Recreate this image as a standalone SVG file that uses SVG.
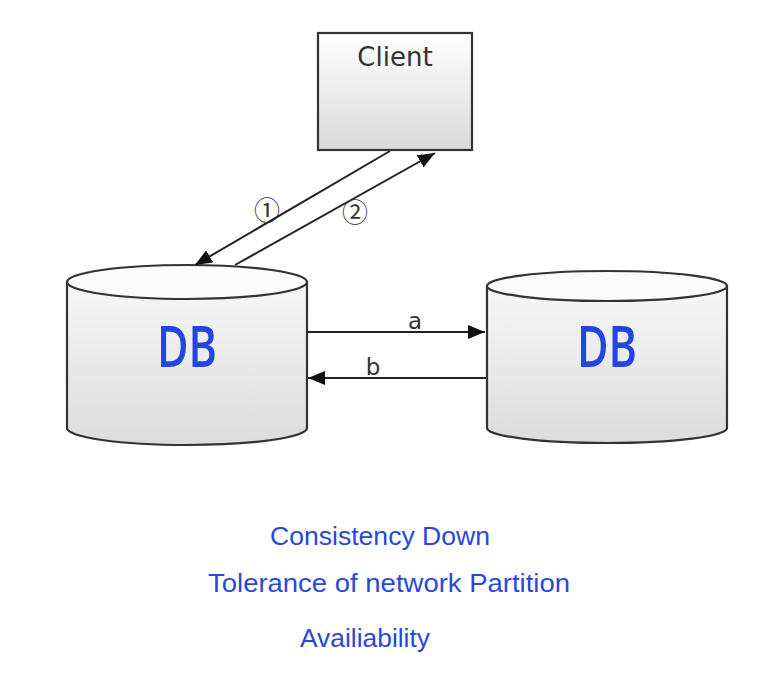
<svg xmlns="http://www.w3.org/2000/svg" width="782" height="676" viewBox="0 0 782 676">
<defs>
  <linearGradient id="gBox" x1="0" y1="0" x2="0" y2="1">
    <stop offset="0" stop-color="#ffffff"/>
    <stop offset="1" stop-color="#d9d9d9"/>
  </linearGradient>
  <linearGradient id="gCyl" x1="0" y1="0" x2="0" y2="1">
    <stop offset="0" stop-color="#f7f7f7"/>
    <stop offset="1" stop-color="#dcdcdc"/>
  </linearGradient>
  <marker id="arr" markerUnits="userSpaceOnUse" markerWidth="18" markerHeight="14" refX="17" refY="7" orient="auto">
    <path d="M0,0 L17,7 L0,14 z" fill="#111"/>
  </marker>
  <style>
    .shape{stroke:#333;stroke-width:2.2}
    .conn{stroke:#222;stroke-width:2;fill:none}
    .db{font-family:"Open Sans","DejaVu Sans",sans-serif;font-weight:600;font-size:58px;fill:#2346e0;text-anchor:middle}
    .lbl{font-family:"DejaVu Sans","Liberation Sans",sans-serif;fill:#333;text-anchor:middle}
    .circ{font-family:"Noto Sans CJK SC","DejaVu Sans",sans-serif;font-size:26px;fill:#333;text-anchor:middle}
    .note{font-family:"Liberation Sans","Noto Sans",sans-serif;font-size:25px;fill:#2a48d6}
  </style>
</defs>
<rect width="782" height="676" fill="#ffffff"/>

<g id="client">
  <rect x="318" y="33" width="154" height="117" fill="url(#gBox)" class="shape" stroke-width="2.5"/>
  <text x="395" y="66" class="lbl" font-size="26">Client</text>
</g>

<g id="db1">
  <path d="M67,282 L67,428 A120,17 0 0 0 307,428 L307,282 Z" fill="url(#gCyl)" class="shape"/>
  <ellipse cx="187" cy="282" rx="120" ry="17" fill="#fbfbfb" class="shape"/>
  <text x="187" y="367" class="db" textLength="60" lengthAdjust="spacingAndGlyphs">DB</text>
</g>

<g id="db2">
  <path d="M487,286 L487,428 A120,15 0 0 0 727,428 L727,286 Z" fill="url(#gCyl)" class="shape"/>
  <ellipse cx="607" cy="286" rx="120" ry="15" fill="#fbfbfb" class="shape"/>
  <text x="607" y="367" class="db" textLength="60" lengthAdjust="spacingAndGlyphs">DB</text>
</g>

<g id="connectors">
  <line x1="390" y1="151" x2="195" y2="265" class="conn" marker-end="url(#arr)"/>
  <line x1="235" y1="265" x2="435" y2="153" class="conn" marker-end="url(#arr)"/>
  <line x1="307" y1="332" x2="485" y2="332" class="conn" marker-end="url(#arr)"/>
  <line x1="486" y1="378" x2="308" y2="378" class="conn" marker-end="url(#arr)"/>
  <text x="267" y="220" class="circ">①</text>
  <text x="355" y="222" class="circ">②</text>
  <text x="415" y="329" class="lbl" font-size="23">a</text>
  <text x="373" y="375" class="lbl" font-size="23">b</text>
</g>

<g id="notes">
  <text x="270" y="545" class="note" textLength="220" lengthAdjust="spacingAndGlyphs">Consistency Down</text>
  <text x="208" y="592" class="note" textLength="362" lengthAdjust="spacingAndGlyphs">Tolerance of network Partition</text>
  <text x="300" y="647" class="note" textLength="130" lengthAdjust="spacingAndGlyphs">Availiability</text>
</g>
</svg>
